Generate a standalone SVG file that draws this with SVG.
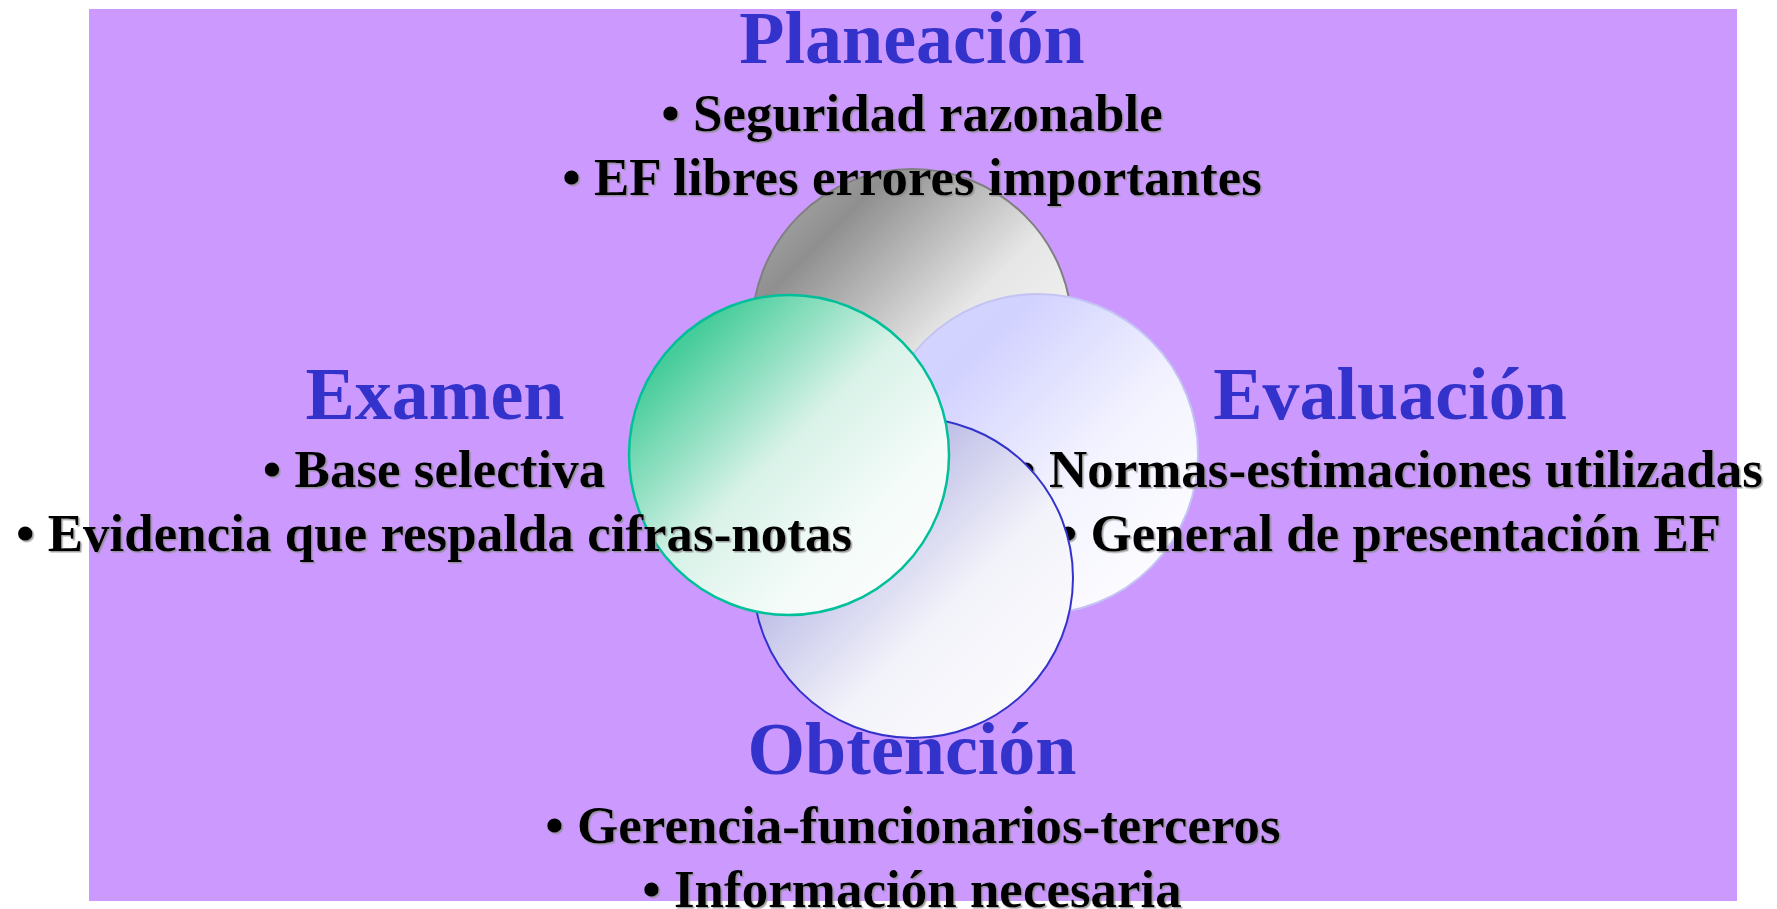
<svg xmlns="http://www.w3.org/2000/svg" width="1777" height="909" viewBox="0 0 1777 909">
<style>
.title{font-family:"Liberation Serif","Times New Roman",serif;font-weight:bold;font-size:74px;fill:#3333CC;text-anchor:middle}
.item{font-family:"Liberation Serif","Times New Roman",serif;font-weight:bold;font-size:53px;fill:#000;text-anchor:middle;filter:url(#sh)}
</style>
<defs>
<filter id="sh" x="-5%" y="-20%" width="110%" height="140%">
<feDropShadow dx="1.5" dy="1.5" stdDeviation="0.3" flood-color="#8c8c8c" flood-opacity="0.8"/>
</filter>
<linearGradient id="gGray" x1="0" y1="0" x2="1" y2="1">
<stop offset="0" stop-color="#b4b4b4"/>
<stop offset="0.22" stop-color="#8f8f8f"/>
<stop offset="0.55" stop-color="#e6e6e6"/>
<stop offset="1" stop-color="#ffffff"/>
</linearGradient>
<linearGradient id="gLav" x1="0" y1="0" x2="1" y2="1">
<stop offset="0" stop-color="#d6d6ff"/>
<stop offset="0.25" stop-color="#d2d2ff"/>
<stop offset="0.6" stop-color="#f4f4ff"/>
<stop offset="1" stop-color="#ffffff"/>
</linearGradient>
<linearGradient id="gBlue" x1="0" y1="0" x2="1" y2="1">
<stop offset="0" stop-color="#c0c0ec"/>
<stop offset="0.25" stop-color="#b4b4e4"/>
<stop offset="0.6" stop-color="#f2f2fa"/>
<stop offset="1" stop-color="#ffffff"/>
</linearGradient>
<linearGradient id="gGreen" x1="0" y1="0" x2="1" y2="1">
<stop offset="0" stop-color="#50d0a0"/>
<stop offset="0.16" stop-color="#46cc9a"/>
<stop offset="0.48" stop-color="#d8f2e8"/>
<stop offset="0.72" stop-color="#f4fbf8"/>
<stop offset="1" stop-color="#ffffff"/>
</linearGradient>
</defs>
<rect id="background" x="89" y="9" width="1648" height="892" fill="#CC99FF"/>
<g id="planeacion">
<circle cx="912" cy="329" r="160" fill="url(#gGray)" stroke="#808080" stroke-width="2"/>
<text class="title" x="912" y="63">Planeación</text>
<text class="item" x="912" y="131">• Seguridad razonable</text>
<text class="item" x="912" y="195">• EF libres errores importantes</text>
</g>
<g id="evaluacion">
<circle cx="1038" cy="454" r="160" fill="url(#gLav)" stroke="#c4c4f4" stroke-width="2"/>
<text class="title" x="1390" y="419">Evaluación</text>
<text class="item" x="1390" y="487">• Normas-estimaciones utilizadas</text>
<text class="item" x="1390" y="551">• General de presentación EF</text>
</g>
<g id="obtencion">
<circle cx="913" cy="578" r="160" fill="url(#gBlue)" stroke="#3333CC" stroke-width="2"/>
<text class="title" x="912" y="774">Obtención</text>
<text class="item" x="913" y="843">• Gerencia-funcionarios-terceros</text>
<text class="item" x="912" y="907">• Información necesaria</text>
</g>
<g id="examen">
<circle cx="789" cy="455" r="160" fill="url(#gGreen)" stroke="#00C099" stroke-width="2.5"/>
<text class="title" x="435" y="419">Examen</text>
<text class="item" x="434" y="487">• Base selectiva</text>
<text class="item" x="434" y="551">• Evidencia que respalda cifras-notas</text>
</g>
</svg>
